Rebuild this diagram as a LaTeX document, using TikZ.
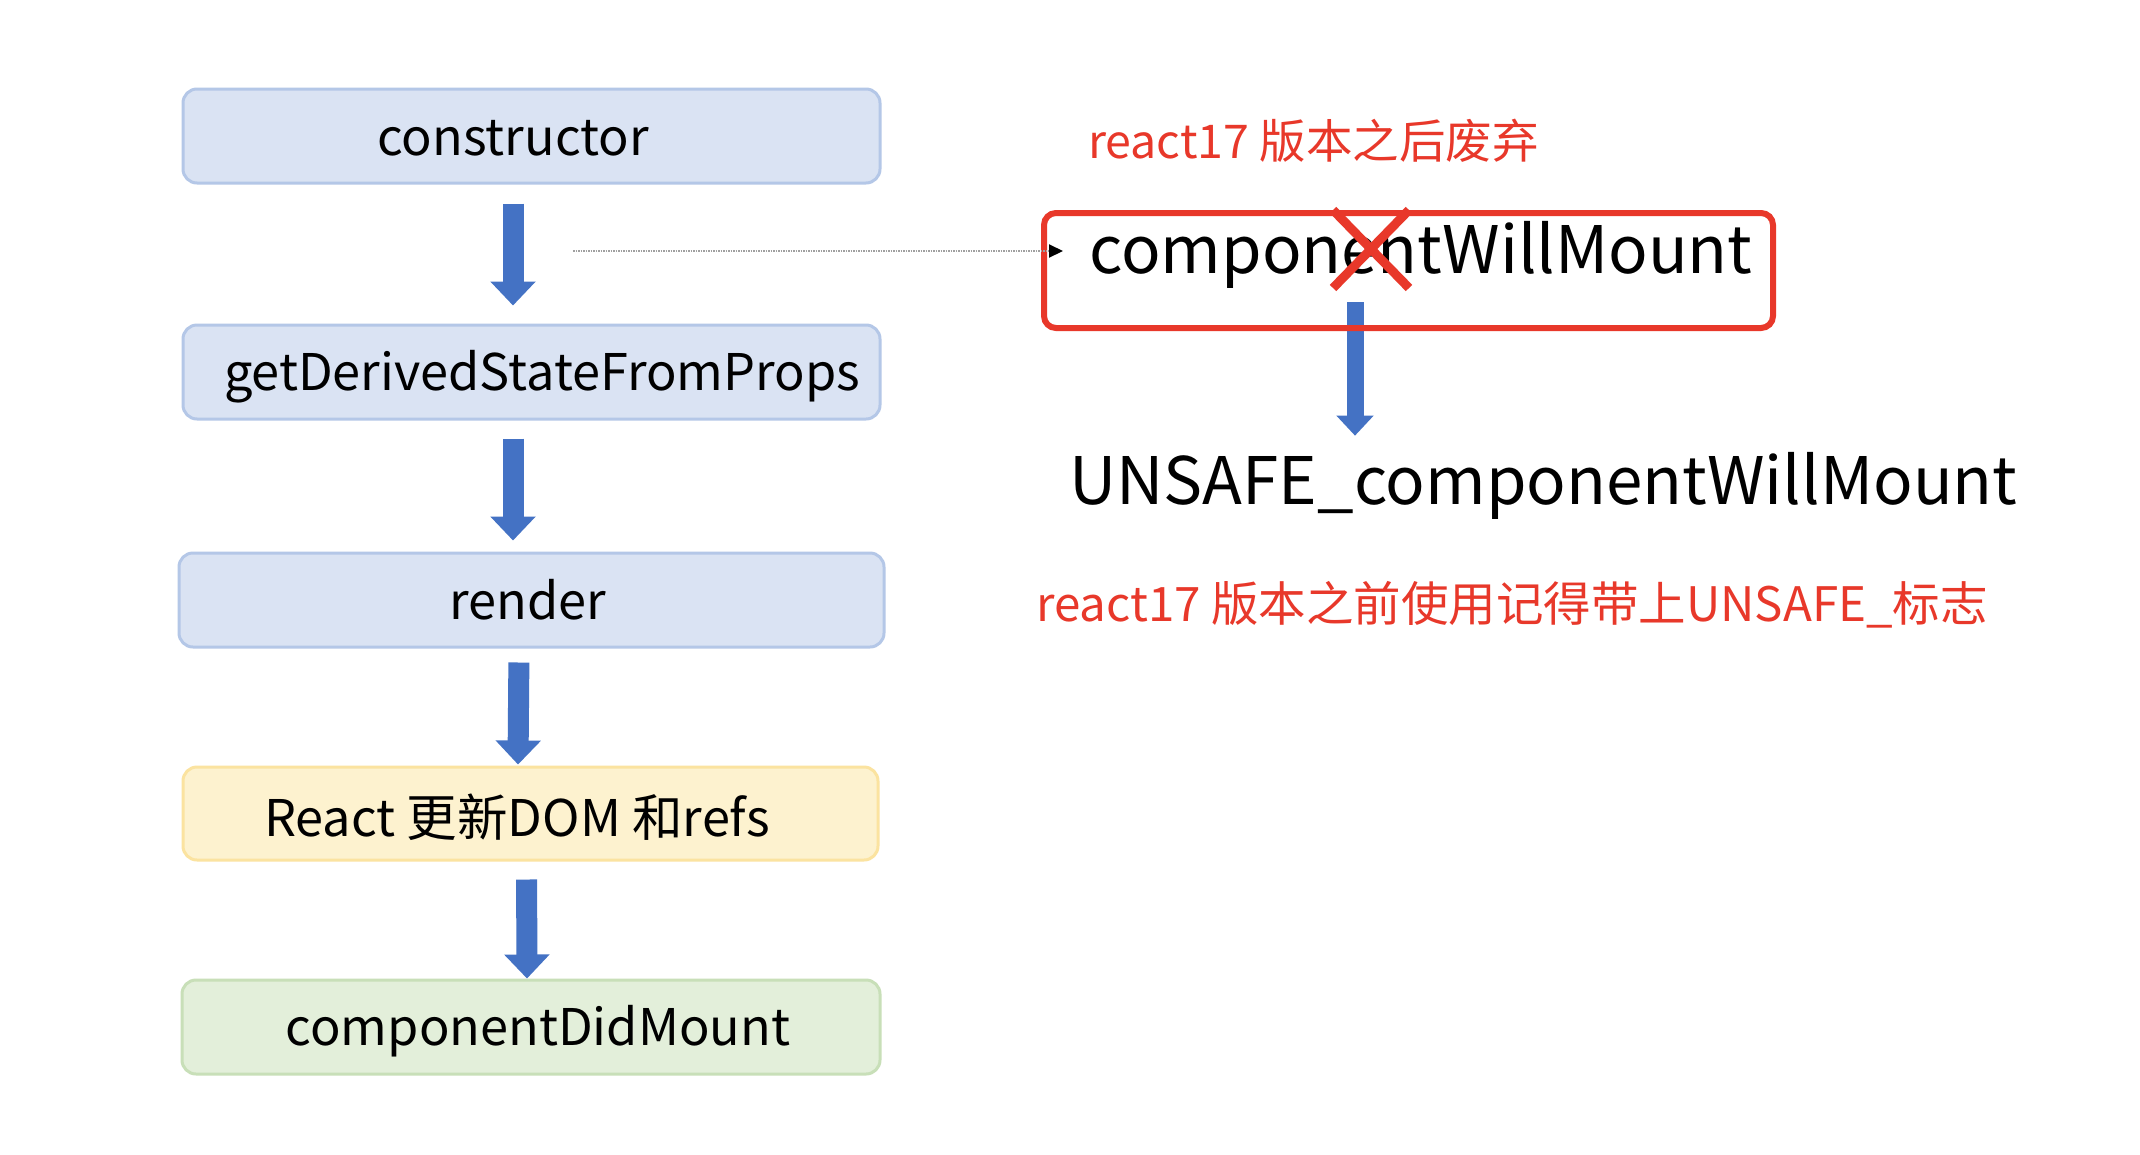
\documentclass[tikz,border=0pt]{standalone}
\usepackage{fontspec}
\setmainfont{Noto Sans CJK SC}
\usetikzlibrary{arrows.meta,calc}
\definecolor{bluefill}{HTML}{DAE3F3}
\definecolor{blueline}{HTML}{B4C7E7}
\definecolor{yelfill}{HTML}{FDF2CF}
\definecolor{yelline}{HTML}{FBE3A0}
\definecolor{grnfill}{HTML}{E3EFDA}
\definecolor{grnline}{HTML}{C8DFB8}
\definecolor{arrowblue}{HTML}{4472C4}
\definecolor{redmark}{HTML}{E8382A}
\definecolor{dotgrey}{HTML}{A0A0A0}
\begin{document}
\begin{tikzpicture}[x=1pt,y=-1pt,
  box/.style={rectangle, rounded corners=14pt, line width=3pt, minimum width=697pt, minimum height=94pt, inner sep=0pt},
  bluebox/.style={box, draw=blueline, fill=bluefill},
  yelbox/.style={box, draw=yelline, fill=yelfill},
  grnbox/.style={box, draw=grnline, fill=grnfill},
  every label/.style={font=\fontsize{50.5}{56}\selectfont, text=black, inner sep=0pt},
  barrow/.style={draw=arrowblue, line width=21pt, -{Triangle[width=44pt,length=24pt]}},
  sarrow/.style={draw=arrowblue, line width=17pt, -{Triangle[width=36pt,length=20pt]}},
  bigtext/.style={font=\fontsize{65.5}{72}\selectfont, inner sep=0pt},
  redtext/.style={text=redmark, inner sep=0pt},
  redbox/.style={rectangle, draw=redmark, line width=6pt, rounded corners=12pt, minimum width=729pt, minimum height=115pt, inner sep=0pt},
  dotline/.style={draw=dotgrey, line width=2pt, dash pattern=on 1.5pt off 1pt, -{Triangle[length=14pt,width=13pt,black]}},
  redx/.style={draw=redmark, line width=9pt}
]
\useasboundingbox[fill=white] (0,0) rectangle (2140,1154);

% left column
\node[bluebox, label={[xshift=-18.5pt,yshift=-2pt]center:constructor}] (c) at (531.5,136) {};
\node[bluebox, label={[xshift=10.5pt,yshift=-5pt]center:getDerivedStateFromProps}] (g) at (531.5,372) {};
\node[bluebox, minimum width=705pt, label={[xshift=-3.5pt]center:render}] (r) at (531.5,600) {};
\node[yelbox, minimum width=695pt, minimum height=93pt, label={[xshift=-13.5pt,yshift=-4pt]center:React 更新DOM 和refs}] (d) at (530.5,813.5) {};
\node[grnbox, minimum width=698pt, label={[xshift=7pt,yshift=-4pt]center:componentDidMount}] (m) at (531,1027) {};

\draw[barrow, shorten <=19pt, shorten >=18pt] ([xshift=-18.5pt]c.south) -- ([xshift=-18.5pt]g.north);
\draw[barrow, shorten <=18pt, shorten >=11pt] ([xshift=-18.5pt]g.south) -- ([xshift=-18.5pt]r.north);
\draw[barrow, shorten <=14pt, shorten >=1pt] ([xshift=-12.5pt]r.south) -- ([xshift=-12.5pt]d.north);
\draw[barrow, shorten <=18pt, shorten >=0pt] ([xshift=-4pt]d.south) -- ([xshift=-4pt]m.north);

% right side
\node[redtext, font=\fontsize{46.5}{52}\selectfont, anchor=west] (t1) at (1088,141) {react17 版本之后废弃};
\node[bigtext, anchor=base west] (cwm) at (1089,273) {componentWillMount};
\node[bigtext, anchor=base west] (us) at (1069,504) {UNSAFE\_componentWillMount};
\node[redtext, font=\fontsize{47.5}{52}\selectfont, anchor=west] (t2) at (1036,605) {react17 版本之前使用记得带上UNSAFE\_标志};

\coordinate (a5x) at (1355,0);
\draw[sarrow, shorten <=14pt, shorten >=16pt] (a5x |- cwm.south) -- (a5x |- us.north);

\node[redbox] (rb) at (1408.5,270.5) {};

\coordinate (dstart) at (573,251);
\draw[dotline, shorten >=26pt] (dstart) -- (dstart -| cwm.west);

\draw[redx] (1333,210) -- (1409,288) (1409,210) -- (1333,288);
\end{tikzpicture}
\end{document}
